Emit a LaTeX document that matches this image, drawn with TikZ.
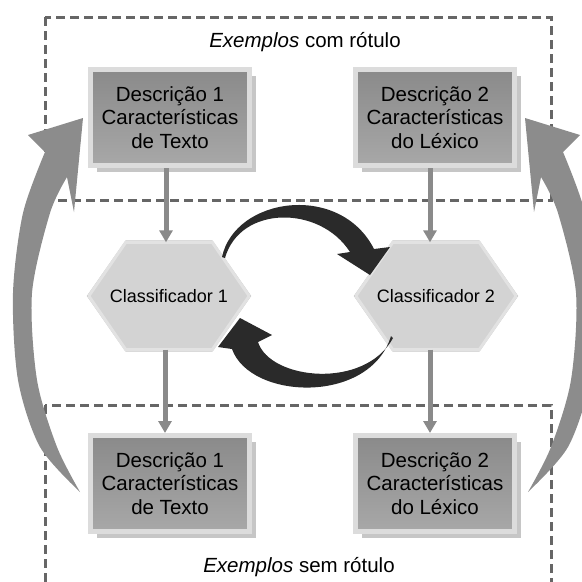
\documentclass[tikz,border=0pt]{standalone}
\usepackage{fontspec}
\setmainfont{Liberation Sans}
\usetikzlibrary{arrows.meta,shadows,backgrounds}

\definecolor{dashgray}{HTML}{666666}
\definecolor{arcgray}{HTML}{8C8C8C}
\definecolor{flowgray}{HTML}{8A8A8A}
\definecolor{boxtop}{HTML}{8A8A8A}
\definecolor{boxbot}{HTML}{A8A8A8}
\definecolor{boxrim}{HTML}{DCDCDC}
\definecolor{boxshade}{HTML}{C6C6C6}
\definecolor{hexfill}{HTML}{D3D3D3}
\definecolor{hexrim}{HTML}{E2E2E2}
\definecolor{hexedge}{HTML}{C4C4C4}
\definecolor{loopblack}{HTML}{2A2A2A}

\begin{document}
\begin{tikzpicture}[x=1pt,y=-1pt,
  region/.style={draw=dashgray, line width=3pt, dash pattern=on 9pt off 5pt},
  descbox/.style={rectangle, draw=boxrim, line width=5pt,
    top color=boxtop, bottom color=boxbot,
    minimum width=159pt, minimum height=96pt, inner sep=0pt, align=center,
    font=\fontsize{20.5}{23.5}\selectfont,
    drop shadow={shadow xshift=6pt, shadow yshift=-6pt, fill=boxshade, opacity=1}},
  hexnode/.style={rectangle, minimum width=160pt, minimum height=107pt,
    inner sep=0pt, font=\fontsize{18}{21}\selectfont},
  hexshape/.style={fill=hexfill, draw=hexrim, line width=3pt, line join=round},
  hexouter/.style={draw=hexedge, line width=0.8pt, line join=round},
  flow/.style={draw=flowgray, line width=5pt, -{Triangle[length=12pt,width=13pt]}},
  title/.style={font=\fontsize{20.5}{24}\selectfont}
]
\useasboundingbox (0,0) rectangle (582,582);
\clip (0,0) rectangle (582,582);

% dashed regions: labelled and unlabelled examples
\draw[region] (45,17) rectangle (551,200);
\draw[region] (45,405) rectangle (551,600);

\node[title] (lab1) at (305,42) {\textit{Exemplos} com rótulo};
\node[title] (lab2) at (299,567) {\textit{Exemplos} sem rótulo};

% large feedback arrows on both sides
\fill[arcgray]
  plot[smooth] coordinates {(80,492) (40,447) (18,380) (13,293) (23,213) (45,152)}
  -- (28,135) -- (83,118) -- (74,212)
  -- plot[smooth] coordinates {(67,177) (50,213) (32,293) (37,380) (57,447) (80,492)}
  -- cycle;
\begin{scope}[xshift=608pt, xscale=-1]
\fill[arcgray]
  plot[smooth] coordinates {(80,492) (40,447) (18,380) (13,293) (23,213) (45,152)}
  -- (28,135) -- (83,118) -- (74,212)
  -- plot[smooth] coordinates {(67,177) (50,213) (32,293) (37,380) (57,447) (80,492)}
  -- cycle;
\end{scope}

% description boxes
\node[descbox] (tl) at (170,117.5) {Descrição 1\\Características\\de Texto};
\node[descbox] (tr) at (435,117.5) {Descrição 2\\Características\\do Léxico};
\node[descbox] (bl) at (170,483.5) {Descrição 1\\Características\\de Texto};
\node[descbox] (br) at (435,483.5) {Descrição 2\\Características\\do Léxico};

% classifiers
\node[hexnode] (c1) at (169,296) {Classificador 1};
\node[hexnode] (c2) at (436,296) {Classificador 2};
\begin{scope}[on background layer]
  \foreach \n in {c1,c2}{
    \draw[hexouter] ([xshift=-1.5pt]\n.west) -- ([xshift=37pt,yshift=1.5pt]\n.north west)
      -- ([xshift=-37pt,yshift=1.5pt]\n.north east) -- ([xshift=1.5pt]\n.east)
      -- ([xshift=-37pt,yshift=-1.5pt]\n.south east) -- ([xshift=37pt,yshift=-1.5pt]\n.south west) -- cycle;
    \draw[hexshape] (\n.west) -- ([xshift=37pt]\n.north west)
      -- ([xshift=-37pt]\n.north east) -- (\n.east)
      -- ([xshift=-37pt]\n.south east) -- ([xshift=37pt]\n.south west) -- cycle;
  }
\end{scope}

% vertical flow arrows
\draw[flow] ([xshift=-4pt]tl.south) -- ([xshift=-4pt]tl.south |- c1.north);
\draw[flow] ([xshift=-4pt]c1.south) -- ([xshift=-4pt]c1.south |- bl.north);
\draw[flow] ([xshift=-5pt]tr.south) -- ([xshift=-5pt]tr.south |- c2.north);
\draw[flow] ([xshift=-6pt]c2.south) -- ([xshift=-6pt]c2.south |- br.north);

% co-training loop between the classifiers
\fill[loopblack] (222,257) .. controls (235,197) and (340,182) .. (374,249)
  -- (390,247) -- (370,275) -- (337,254) -- (350,252)
  .. controls (320,205) and (240,205) .. (225,258) -- cycle;
\fill[loopblack] (391,336) .. controls (370,405) and (250,400) .. (232,349)
  -- (218,347) -- (240,318) -- (272,335) -- (258,342)
  .. controls (270,380) and (365,390) .. (393,338) -- cycle;
\end{tikzpicture}
\end{document}
